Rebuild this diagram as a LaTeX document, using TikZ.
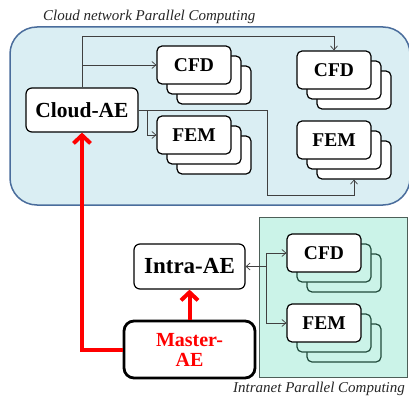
\documentclass[tikz,border=0pt]{standalone}
\usepackage{fontspec}
\setmainfont{Liberation Serif}
\usetikzlibrary{arrows.meta}
\definecolor{cloudfill}{HTML}{DAEEF3}
\definecolor{cloudline}{HTML}{4A6D9C}
\definecolor{intrafill}{HTML}{CBF3E8}
\definecolor{intraline}{HTML}{4D5F58}
\definecolor{backline}{HTML}{1F4A3A}
\definecolor{connc}{HTML}{404040}
\begin{document}
\begin{tikzpicture}[x=1pt,y=-1pt,
  box/.style={draw=black, line width=1.2pt, rounded corners=5pt, fill=white,
    minimum width=74pt, minimum height=38pt, inner sep=0pt,
    font=\bfseries\fontsize{19.5}{20}\selectfont},
  cloudback/.style={box},
  intraback/.style={box, fill=intrafill, draw=backline},
  aebox/.style={draw=black, line width=1.2pt, rounded corners=6pt, fill=white, inner sep=0pt},
  thinarrow/.style={draw=connc, line width=0.7pt, -{Straight Barb[length=4pt,width=7pt]}},
  thinline/.style={draw=connc, line width=0.7pt},
  redarrow/.style={draw=red, line width=4pt, -{Straight Barb[length=8pt,width=17pt]}},
  redline/.style={draw=red, line width=4pt},
  title/.style={font=\itshape\fontsize{15}{18}\selectfont, text=black!85, inner sep=0pt}
]
\useasboundingbox (0,0) rectangle (409,396);
% regions
\draw[fill=cloudfill, draw=cloudline, line width=1.5pt, rounded corners=27pt] (10,27) rectangle (410,205);
\node[title, anchor=base west] (ctitle) at (43,21) {Cloud network Parallel Computing};
\draw[fill=intrafill, draw=intraline, line width=0.9pt] (259,217) rectangle (407,377);
\node[title, anchor=base west] (ititle) at (233,392) {Intranet Parallel Computing};

% cloud stacks
\node[cloudback] (cfdA3) at (214,85) {};
\node[cloudback] (cfdA2) at (204,75) {};
\node[box] (cfdA) at (194,65) {CFD};
\node[cloudback] (femA3) at (214,155) {};
\node[cloudback] (femA2) at (204,145) {};
\node[box] (femA) at (194,135) {FEM};
\node[cloudback] (cfdB3) at (354,90) {};
\node[cloudback] (cfdB2) at (344,80) {};
\node[box] (cfdB) at (334,70) {CFD};
\node[cloudback] (femB3) at (354,160) {};
\node[cloudback] (femB2) at (344,150) {};
\node[box] (femB) at (334,140) {FEM};
% intranet stacks
\node[intraback] (cfdC3) at (344,273) {};
\node[intraback] (cfdC2) at (334,263) {};
\node[box] (cfdC) at (324,253) {CFD};
\node[intraback] (femC3) at (344,343) {};
\node[intraback] (femC2) at (334,333) {};
\node[box] (femC) at (324,323) {FEM};

% AE boxes
\node[aebox, minimum width=112pt, minimum height=44pt, font=\bfseries\fontsize{21.5}{22}\selectfont] (cloud) at (82,110) {Cloud-AE};
\node[aebox, minimum width=111pt, minimum height=45pt, font=\bfseries\fontsize{23}{24}\selectfont] (intra) at (189.5,266.5) {Intra-AE};
\node[aebox, line width=2.8pt, rounded corners=10pt, minimum width=131pt, minimum height=57pt, align=center, text=red, font=\bfseries\fontsize{20}{20}\selectfont] (master) at (189.5,349.5) {Master-\\AE};

% cloud connectors
\coordinate (ctop) at (82,36);
\draw[thinarrow] (cloud.north) -- (ctop) -| (cfdB.north);
\draw[thinarrow] (cloud.north |- cfdA.west) -- (cfdA.west);
\coordinate (rbend) at (267,195);
\draw[thinarrow] (cloud.east) -| (rbend) -| (femB3.south);
\coordinate (fj) at (147,110);
\draw[thinarrow] (fj) |- (femA.west);

% intranet connectors
\coordinate (ij) at (266,266.5);
\draw[thinarrow] (ij) -- (intra.east);
\draw[thinarrow] (ij) |- (cfdC.west);
\draw[thinarrow] (ij) |- (femC.west);

% red connectors
\draw[redarrow] (master.north) -- (intra.south);
\draw[redarrow] (master.west) -| (cloud.south);
\end{tikzpicture}
\end{document}
